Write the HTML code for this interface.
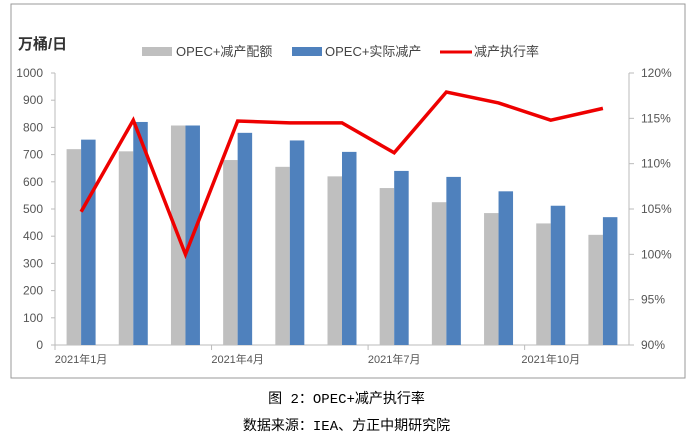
<!DOCTYPE html>
<html><head><meta charset="utf-8">
<style>
body{margin:0;background:#fff;width:693px;height:443px;overflow:hidden;font-family:"Liberation Sans","Noto Sans CJK SC",sans-serif;}
.cap{position:absolute;left:0;width:693px;text-align:center;font-size:14px;color:#000;font-family:"Liberation Mono","Noto Sans CJK SC",monospace;}
</style></head><body>
<svg id="chart" width="693" height="443" style="position:absolute;left:0;top:0" font-family="Liberation Sans, Noto Sans CJK SC, sans-serif">
<rect x="11" y="4" width="674" height="374" fill="#fff" stroke="#999" stroke-width="1"/>
<text x="18" y="49" font-size="15" font-weight="bold" fill="#333">万桶/日</text>
<g id="legend">
<rect x="142" y="47" width="30" height="9" fill="#bfbfbf"/>
<text x="176" y="56" font-size="13" fill="#444">OPEC+减产配额</text>
<rect x="292" y="47" width="30" height="9" fill="#4f81bd"/>
<text x="325" y="56" font-size="13" fill="#444">OPEC+实际减产</text>
<line x1="440" y1="52" x2="472" y2="52" stroke="#e00" stroke-width="3"/>
<text x="474" y="56" font-size="13" fill="#444">减产执行率</text>
</g>
<g id="axes"></g><g id="bars"></g><g id="line"></g>
</svg>
<div class="cap" style="top:388px">图 2：OPEC+减产执行率</div>
<div class="cap" style="top:415px">数据来源：IEA、方正中期研究院</div>
<script>
const categories=["2021年1月","2021年2月","2021年3月","2021年4月","2021年5月","2021年6月","2021年7月","2021年8月","2021年9月","2021年10月","2021年11月"];
const quota=[720,712,807,680,655,620,577,525,485,447,405];
const actual=[755,820,807,780,752,710,640,618,565,512,470];
const rate=[104.7,114.8,100.0,114.7,114.5,114.5,111.2,117.9,116.7,114.8,116.1];
const leftTicks=[0,100,200,300,400,500,600,700,800,900,1000];
const rightTicks=[90,95,100,105,110,115,120];
const xLabelIdx=[0,3,6,9];
const NS="http://www.w3.org/2000/svg";
const X0=55,X1=629,Y0=345,Y1=73;
const cw=(X1-X0)/categories.length;
const yL=v=>Y0-(v/1000)*(Y0-Y1);
const yR=v=>Y0-((v-90)/30)*(Y0-Y1);
const xc=i=>X0+cw*(i+0.5);
function mk(t,a,p){const e=document.createElementNS(NS,t);for(const k in a)e.setAttribute(k,a[k]);p.appendChild(e);return e;}
const ax=document.getElementById('axes');
let e=mk('line',{x1:X0,y1:Y1,x2:X0,y2:Y0,stroke:'#bbb'},ax);


e=mk('line',{x1:X1,y1:Y1,x2:X1,y2:Y0,stroke:'#bbb'},ax);


e=mk('line',{x1:X0,y1:Y0,x2:X1,y2:Y0,stroke:'#bbb'},ax);


leftTicks.forEach(v=>{
 mk('line',{x1:X0-4,y1:yL(v),x2:X0,y2:yL(v),stroke:'#bbb'},ax);
 const t=mk('text',{x:X0-12,y:yL(v)+4,'font-size':12,fill:'#555','text-anchor':'end'},ax);t.textContent=v;
 
 
});
rightTicks.forEach(v=>{
 mk('line',{x1:X1,y1:yR(v),x2:X1+5,y2:yR(v),stroke:'#bbb'},ax);
 const t=mk('text',{x:X1+12,y:yR(v)+4,'font-size':12,fill:'#555'},ax);t.textContent=v+'%';
 
 
});
xLabelIdx.forEach(i=>{
 mk('line',{x1:X0+cw*i,y1:Y0,x2:X0+cw*i,y2:Y0+5,stroke:'#bbb'},ax);
 const t=mk('text',{x:xc(i),y:Y0+18,'font-size':11,fill:'#555','text-anchor':'middle'},ax);t.textContent=categories[i];
 
 
});
const bg=document.getElementById('bars');const bw=14.5;
categories.forEach((c,i)=>{
 let r=mk('rect',{x:xc(i)-bw,y:yL(quota[i]),width:bw,height:Y0-yL(quota[i]),fill:'#bfbfbf'},bg);
 
 
 r=mk('rect',{x:xc(i),y:yL(actual[i]),width:bw,height:Y0-yL(actual[i]),fill:'#4f81bd'},bg);
 
 
});
const pl=mk('polyline',{points:rate.map((v,i)=>xc(i)+','+yR(v)).join(' '),fill:'none',stroke:'#e00',"stroke-width":3.5,"stroke-linejoin":'miter'},document.getElementById('line'));


</script>
</body></html>
